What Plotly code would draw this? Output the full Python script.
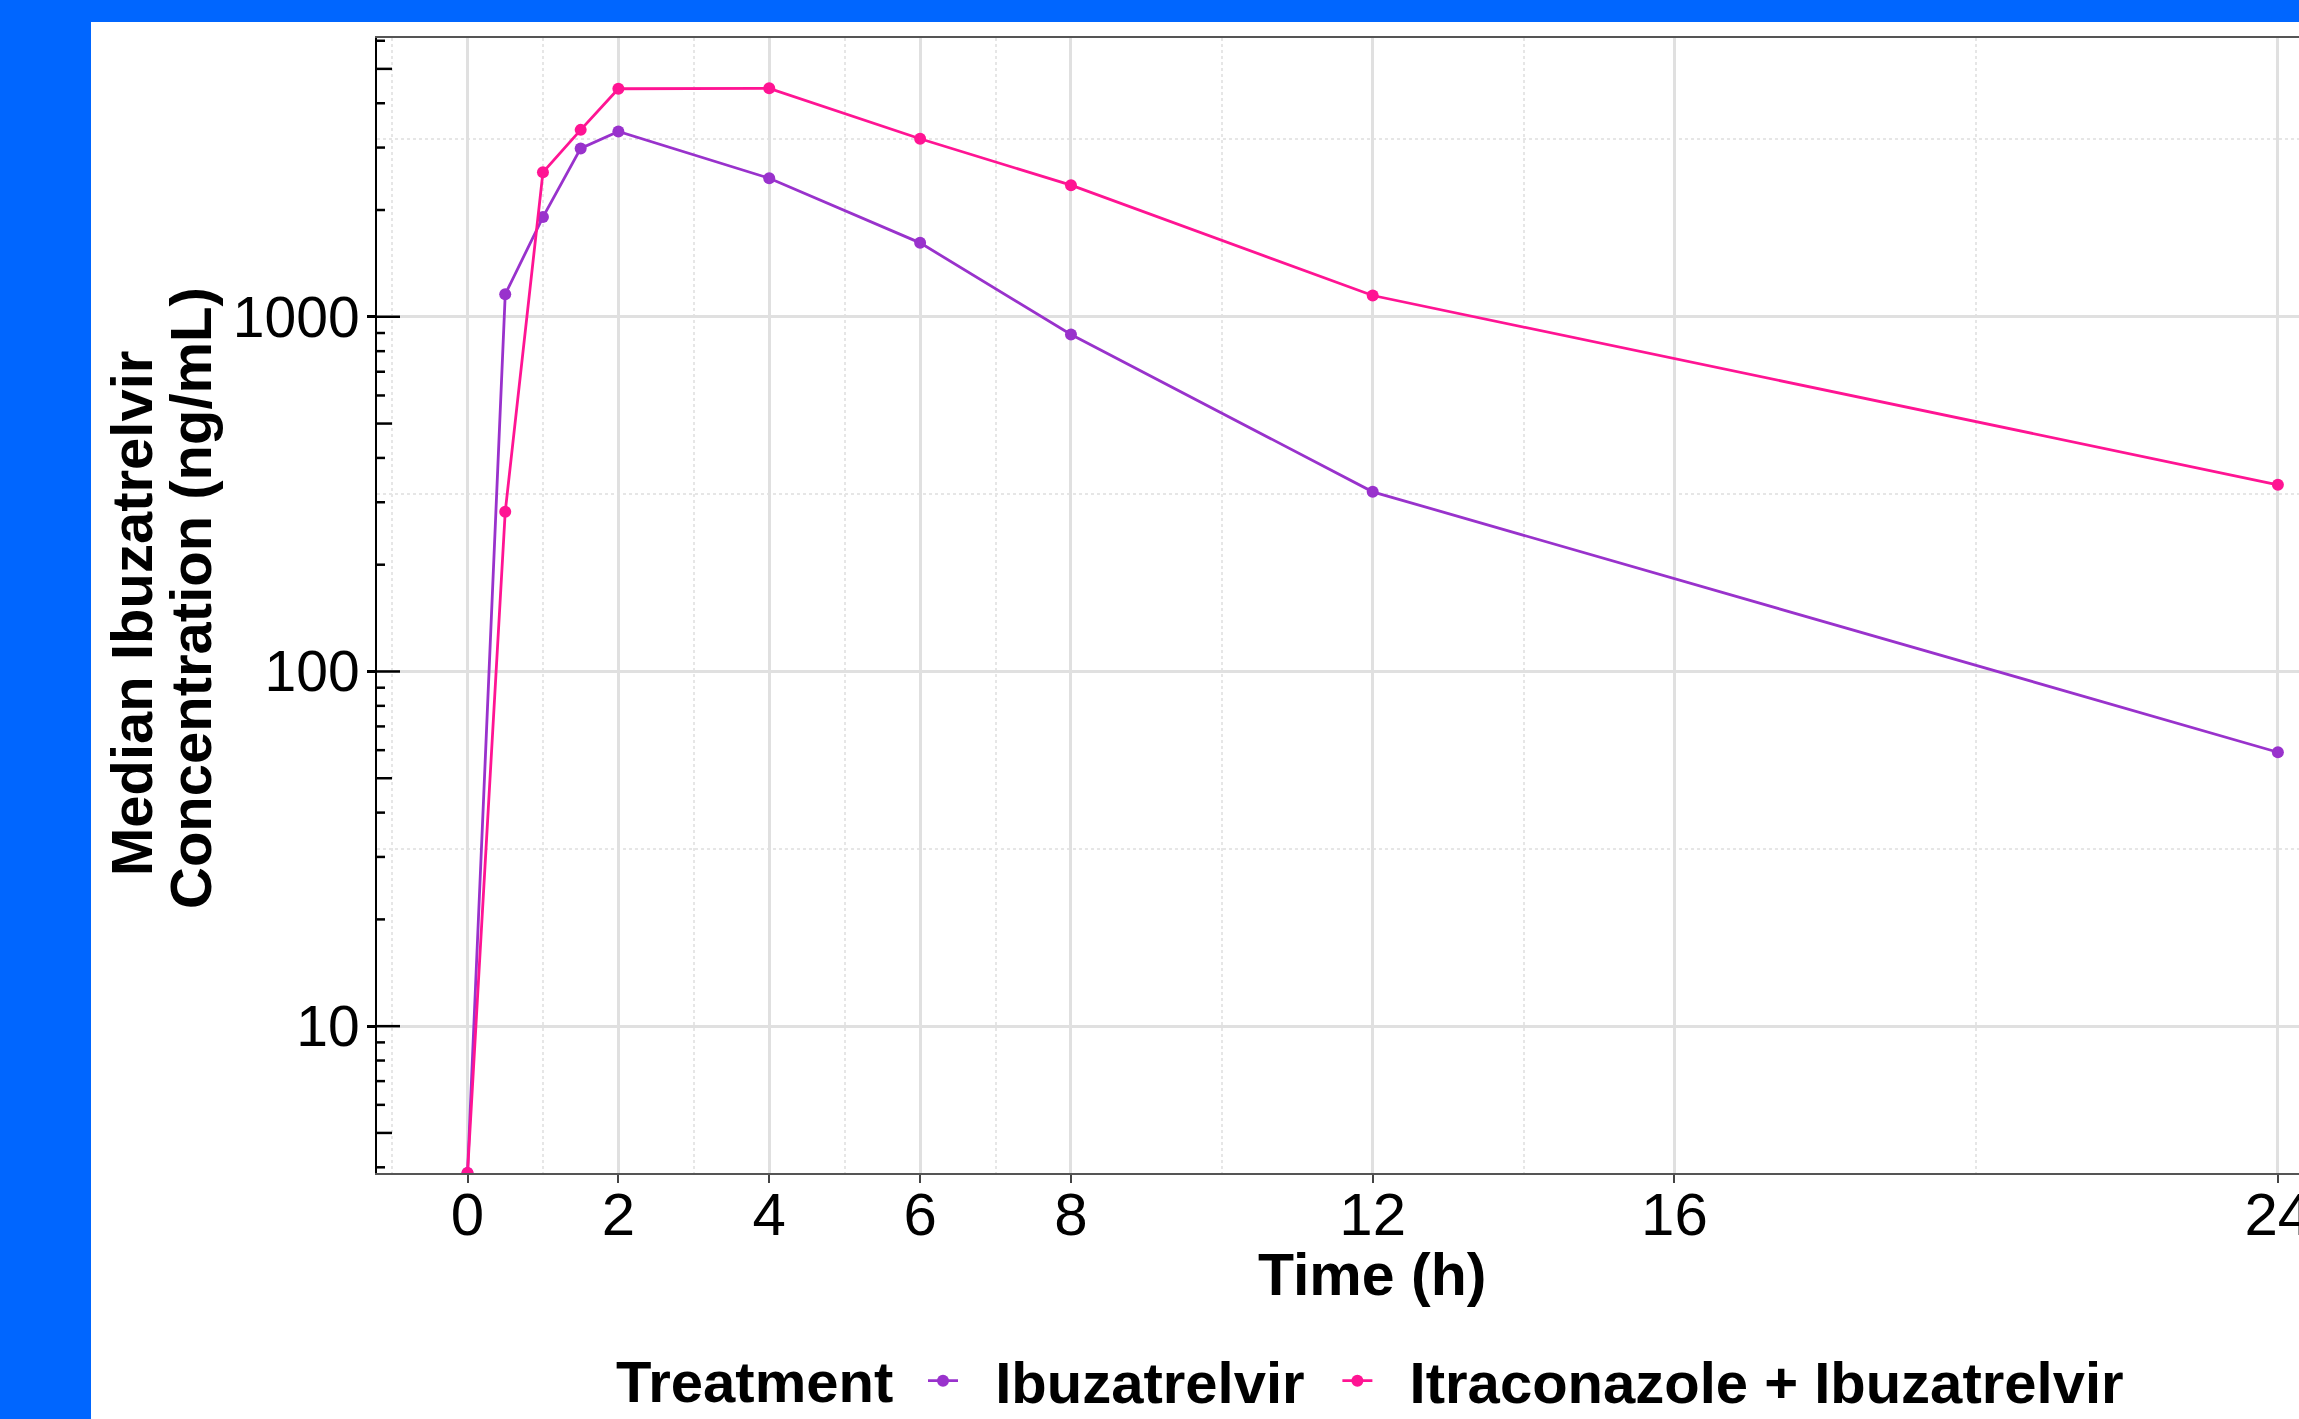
import plotly.graph_objects as go

# ---------------- data ----------------
time_h = [0, 0.5, 1, 1.5, 2, 4, 6, 8, 12, 24]
ibuzatrelvir = [0, 1157, 1910, 2983, 3332, 2458, 1616, 891, 321, 59.2]
itra_ibuzatrelvir = [0, 282, 2556, 3365, 4395, 4406, 3177, 2350, 1148, 336]

series_names = ["Ibuzatrelvir", "Itraconazole + Ibuzatrelvir"]
series_colors = ["#9932CC", "#FF1493"]

x_tick_vals = [0, 2, 4, 6, 8, 12, 16, 24]
x_minor_vals = [-1, 1, 3, 5, 7, 10, 14, 20]
y_tick_vals = [10, 100, 1000]
y_tick_text = ["10", "100", "1000"]
y_minor_vals = [10 ** 1.5, 10 ** 2.5, 10 ** 3.5]

x_title = "Time (h)"
y_title_lines = ["Median Ibuzatrelvir", "Concentration (ng/mL)"]
legend_title = "Treatment"

# ---------------- layout constants ----------------
W, H = 2299, 1419
ML, MR, MT, MB = 377, 0, 38, 246
PW, PH = W - ML - MR, H - MT - MB
Y_RANGE_LOG = [0.586, 3.786]
X_RANGE = [-1.2, 24.28]
FONT = "Liberation Sans, Arial, Helvetica, sans-serif"
NB = "\u00a0"
THIN = "\u2009"

def px_to_paper_x(px):
    return (px - ML) / PW

def px_to_paper_y(py):
    return (H - MB - py) / PH

y_floor = 10 ** Y_RANGE_LOG[0]  # zero concentrations drawn at panel edge (like -Inf)

fig = go.Figure()
for name, vals, col in zip(series_names, [ibuzatrelvir, itra_ibuzatrelvir], series_colors):
    fig.add_trace(go.Scatter(
        x=time_h,
        y=[v if v > 0 else y_floor for v in vals],
        mode="lines+markers",
        name=NB + NB + name + NB + THIN,
        line=dict(color=col, width=2.8),
        marker=dict(color=col, size=12),
        cliponaxis=True,
    ))

shapes = []
# white panel on blue background
shapes.append(dict(type="rect", xref="paper", yref="paper",
                   x0=px_to_paper_x(91), x1=1.05,
                   y0=px_to_paper_y(H + 50), y1=px_to_paper_y(22),
                   fillcolor="white", line=dict(width=0), layer="below"))

# log ticks (annotation_logticks style) on the left, inside the panel
for k in range(0, 4):
    for m in range(1, 10):
        v = m * 10 ** k
        if v < 10 ** Y_RANGE_LOG[0] or v > 10 ** Y_RANGE_LOG[1]:
            continue
        if m == 1:
            ln = 23
        elif m == 5:
            ln = 15
        else:
            ln = 8
        shapes.append(dict(type="line", xref="paper", xsizemode="pixel", xanchor=0,
                           x0=0, x1=ln, yref="y", y0=v, y1=v,
                           line=dict(color="black", width=2.5), layer="above"))

annotations = []
annotations.append(dict(text=f"<b>{x_title}</b>", xref="paper", yref="paper",
                        x=px_to_paper_x(1372), y=px_to_paper_y(1275),
                        xanchor="center", yanchor="middle", showarrow=False,
                        font=dict(size=59, color="black", family=FONT)))
for line, xc, yc in zip(y_title_lines, [132, 191], [613, 598]):
    annotations.append(dict(text=f"<b>{line}</b>", xref="paper", yref="paper",
                            x=px_to_paper_x(xc), y=px_to_paper_y(yc),
                            xanchor="center", yanchor="middle", textangle=-90,
                            showarrow=False,
                            font=dict(size=58, color="black", family=FONT)))
# legend title
annotations.append(dict(text=f"<b>{legend_title}</b>", xref="paper", yref="paper",
                        x=px_to_paper_x(614), y=px_to_paper_y(1381),
                        xanchor="left", yanchor="middle", showarrow=False,
                        font=dict(size=58, color="black", family=FONT)))

fig.update_layout(
    width=W, height=H,
    margin=dict(l=ML, r=MR, t=MT, b=MB, autoexpand=False),
    paper_bgcolor="#0066FF",
    plot_bgcolor="white",
    font=dict(family=FONT, color="black"),
    shapes=shapes,
    annotations=annotations,
    showlegend=True,
    legend=dict(
        orientation="h",
        x=px_to_paper_x(923), xanchor="left",
        y=px_to_paper_y(1381), yanchor="middle",
        font=dict(size=58, family=FONT, color="black", weight="bold"),
        bgcolor="rgba(0,0,0,0)",
        itemwidth=30,
    ),
)

fig.update_xaxes(
    range=X_RANGE,
    tickmode="array", tickvals=x_tick_vals, ticktext=[str(v) for v in x_tick_vals],
    ticks="outside", ticklen=8, tickwidth=2, tickcolor="#444444",
    tickfont=dict(size=60, color="black", family=FONT),
    ticklabelstandoff=-20, ticklabeloverflow="allow",
    showgrid=True, gridcolor="#e0e0e0", gridwidth=2.5,
    minor=dict(tickmode="array", tickvals=x_minor_vals, showgrid=True,
               gridcolor="#e6e6e6", gridwidth=1.5, griddash="dot", ticks=""),
    showline=True, linecolor="#555555", linewidth=2, mirror=True,
    zeroline=False, automargin=False,
)
fig.update_yaxes(
    type="log", range=Y_RANGE_LOG,
    tickmode="array", tickvals=y_tick_vals, ticktext=y_tick_text,
    ticks="outside", ticklen=8, tickwidth=2.5, tickcolor="black",
    tickfont=dict(size=57, color="black", family=FONT),
    ticklabelstandoff=-4, ticklabeloverflow="allow",
    showgrid=True, gridcolor="#e0e0e0", gridwidth=2.5,
    minor=dict(tickmode="array", tickvals=y_minor_vals, showgrid=True,
               gridcolor="#e6e6e6", gridwidth=1.5, griddash="dot", ticks=""),
    showline=True, linecolor="black", linewidth=2, mirror=False,
    zeroline=False, automargin=False,
)

fig.write_html("out.html", config={"displayModeBar": False},
               post_script="document.body.style.margin='0';document.body.style.overflow='hidden';")
